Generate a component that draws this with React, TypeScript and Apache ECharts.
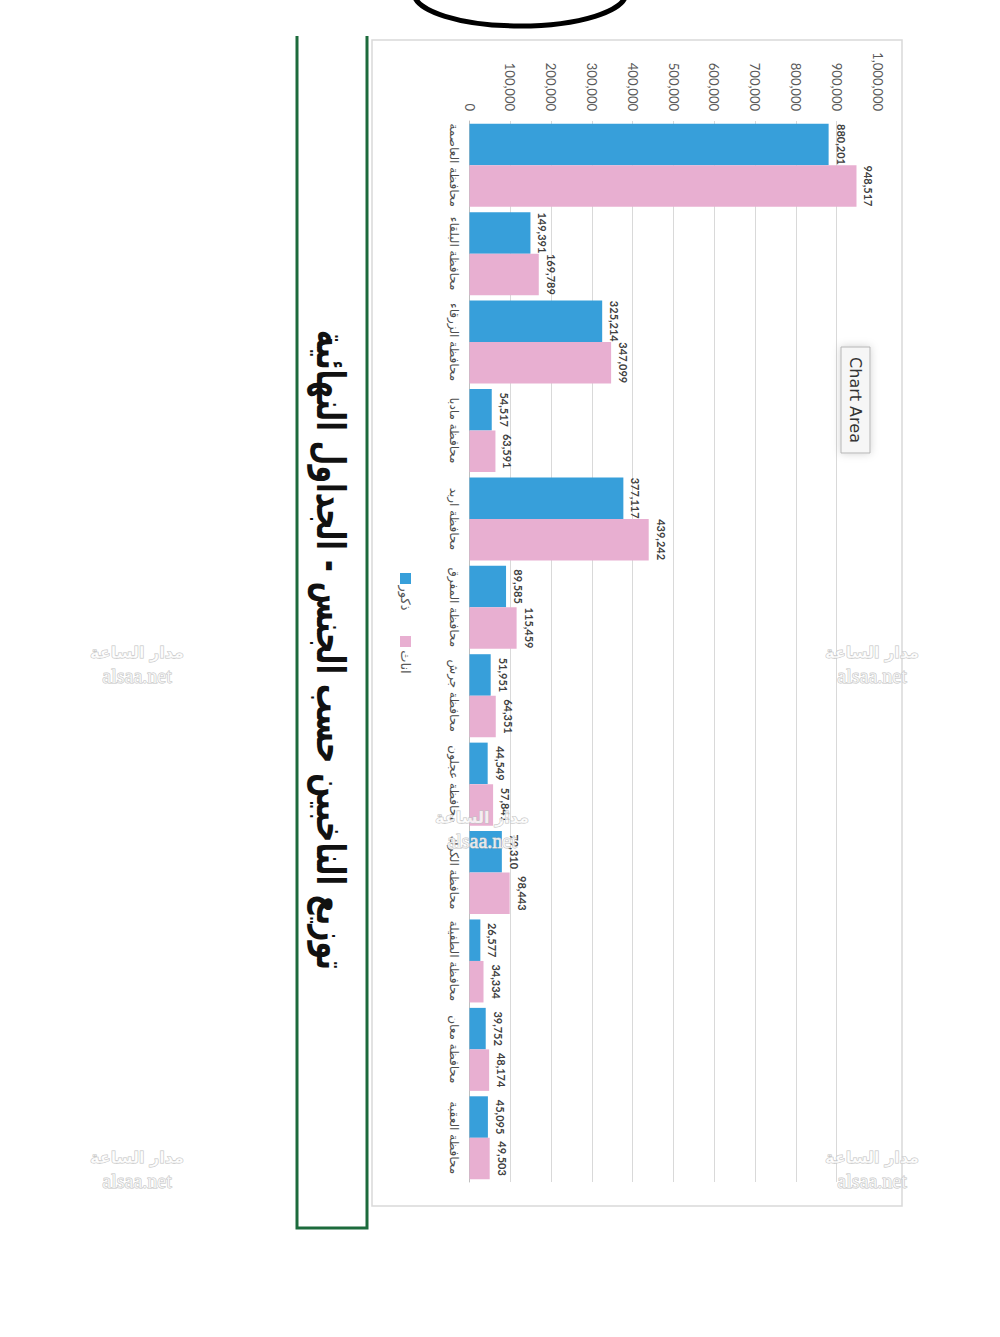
import React, { useEffect, useRef } from "react";
import * as echarts from "echarts";

const categories = [
  "محافظة العاصمة",
  "محافظة البلقاء",
  "محافظة الزرقاء",
  "محافظة مادبا",
  "محافظة اربد",
  "محافظة المفرق",
  "محافظة جرش",
  "محافظة عجلون",
  "محافظة الكرك",
  "محافظة الطفيلة",
  "محافظة معان",
  "محافظة العقبة",
];
const males = [880201, 149391, 325214, 54517, 377117, 89585, 51951, 44549, 79310, 26577, 39752, 45095];
const females = [948517, 169789, 347099, 63591, 439242, 115459, 64351, 57841, 98443, 34334, 48174, 49503];
const seriesNames = ["ذكور", "اناث"];
const seriesColors = ["#379fda", "#e8afd1"];
const valueMin = 0;
const valueMax = 1000000;
const valueStep = 100000;
const titleText = "توزيع الناخبين حسب الجنس - الجداول النهائية";
const chartAreaText = "Chart Area";
const watermarkAr = "مدار الساعة";
const watermarkEn = "alsaa.net";

const fmt = (v: number) => Number(v).toLocaleString("en-US");
const CW = -Math.PI / 2;

function watermark(cx: number, cy: number) {
  return [
    {
      type: "text",
      x: cx,
      y: cy,
      z: 50,
      silent: true,
      style: {
        text: watermarkAr,
        font: 'bold 16px "DejaVu Sans"',
        fill: "rgba(255,255,255,0.75)",
        stroke: "#c2c2c2",
        lineWidth: 1,
        align: "center",
        verticalAlign: "middle",
        textAlign: "center",
        textVerticalAlign: "middle",
      },
    },
    {
      type: "text",
      x: cx,
      y: cy + 24,
      z: 50,
      silent: true,
      style: {
        text: watermarkEn,
        font: '20px "Liberation Serif"',
        fill: "rgba(255,255,255,0.75)",
        stroke: "#c2c2c2",
        lineWidth: 1,
        align: "center",
        verticalAlign: "middle",
        textAlign: "center",
        textVerticalAlign: "middle",
      },
    },
  ];
}

export default function App() {
  const ref = useRef<HTMLDivElement>(null);
  useEffect(() => {
    if (!ref.current) return;
    const chart = echarts.init(ref.current, null, { renderer: "svg" });
    const labelCfg = {
      show: true,
      position: "right",
      rotate: -90,
      align: "center",
      verticalAlign: "bottom",
      distance: 7,
      fontSize: 11,
      fontWeight: "bold",
      fontFamily: "Lato",
      color: "#404040",
      formatter: (p: any) => fmt(p.value),
    };
    const option: any = {
      animation: false,
      backgroundColor: "#ffffff",
      grid: { left: 469.5, top: 121, width: 408, height: 1061, containLabel: false },
      xAxis: {
        type: "value",
        position: "top",
        min: valueMin,
        max: valueMax,
        interval: valueStep,
        axisLine: { show: false },
        axisTick: { show: false },
        splitLine: {
          show: true,
          showMinLine: false,
          showMaxLine: false,
          lineStyle: { color: "#d9d9d9", width: 1 },
        },
        axisLabel: {
          rotate: 90,
          margin: 10,
          fontSize: 13,
          color: "#595959",
          fontFamily: "Lato",
          formatter: (v: number) => fmt(v),
        },
      },
      yAxis: {
        type: "category",
        data: categories,
        inverse: true,
        axisLine: { show: true, lineStyle: { color: "#bfbfbf", width: 1 } },
        axisTick: { show: false },
        axisLabel: {
          interval: 0,
          rotate: -90,
          margin: 10,
          fontSize: 12,
          color: "#4d4d4d",
          fontFamily: "DejaVu Sans",
        },
      },
      series: [
        {
          type: "bar",
          name: seriesNames[0],
          data: males,
          barWidth: 41.5,
          barGap: "0%",
          itemStyle: { color: seriesColors[0] },
          label: labelCfg,
        },
        {
          type: "bar",
          name: seriesNames[1],
          data: females,
          barWidth: 41.5,
          barGap: "0%",
          itemStyle: { color: seriesColors[1] },
          label: labelCfg,
        },
      ],
      graphic: [
        {
          type: "ellipse",
          z: 10,
          silent: true,
          shape: { cx: 520, cy: -7, rx: 106, ry: 33 },
          style: { fill: "none", stroke: "#000000", lineWidth: 5 },
        },
        {
          type: "rect",
          z: -1,
          silent: true,
          shape: { x: 372, y: 40, width: 530, height: 1166 },
          style: { fill: "none", stroke: "#d9d9d9", lineWidth: 1.5 },
        },
        {
          type: "polyline",
          z: 10,
          silent: true,
          shape: { points: [[297, 36], [297, 1228], [367, 1228], [367, 36]] },
          style: { fill: "none", stroke: "#1c6b3c", lineWidth: 3 },
        },
        {
          type: "text",
          x: 331,
          y: 650,
          rotation: CW,
          scaleX: 0.71,
          z: 10,
          style: {
            text: titleText,
            font: 'bold 40px "DejaVu Sans"',
            fill: "#111111",
            align: "center",
            verticalAlign: "middle",
            textAlign: "center",
            textVerticalAlign: "middle",
          },
        },
        {
          type: "rect",
          z: 20,
          silent: true,
          shape: { x: 841, y: 347, width: 29, height: 106 },
          style: {
            fill: "#f6f6f6",
            stroke: "#b5b5b5",
            lineWidth: 1,
            shadowBlur: 8,
            shadowColor: "rgba(0,0,0,0.18)",
          },
        },
        {
          type: "text",
          x: 855.5,
          y: 400,
          rotation: CW,
          z: 21,
          style: {
            text: chartAreaText,
            font: '16px "DejaVu Sans"',
            fill: "#333333",
            align: "center",
            verticalAlign: "middle",
            textAlign: "center",
            textVerticalAlign: "middle",
          },
        },
        {
          type: "rect",
          z: 10,
          shape: { x: 400, y: 573, width: 11, height: 11 },
          style: { fill: seriesColors[0] },
        },
        {
          type: "text",
          x: 405.5,
          y: 598,
          rotation: CW,
          z: 10,
          style: {
            text: seriesNames[0],
            font: '13px "DejaVu Sans"',
            fill: "#595959",
            align: "center",
            verticalAlign: "middle",
            textAlign: "center",
            textVerticalAlign: "middle",
          },
        },
        {
          type: "rect",
          z: 10,
          shape: { x: 400, y: 636, width: 11, height: 11 },
          style: { fill: seriesColors[1] },
        },
        {
          type: "text",
          x: 405.5,
          y: 662,
          rotation: CW,
          z: 10,
          style: {
            text: seriesNames[1],
            font: '13px "DejaVu Sans"',
            fill: "#595959",
            align: "center",
            verticalAlign: "middle",
            textAlign: "center",
            textVerticalAlign: "middle",
          },
        },
        ...watermark(137, 652),
        ...watermark(872, 652),
        ...watermark(137, 1157),
        ...watermark(872, 1157),
        ...watermark(482, 817),
      ],
    };
    chart.setOption(option);
    return () => chart.dispose();
  }, []);
  return (
    <div
      ref={ref}
      style={{ position: "absolute", left: 0, top: 0, width: 1000, height: 1337, background: "#fff" }}
    />
  );
}
